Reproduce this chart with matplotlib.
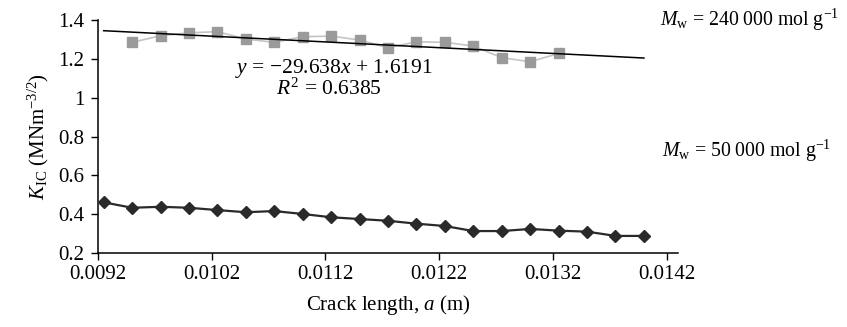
import matplotlib
matplotlib.use("Agg")
import matplotlib.pyplot as plt

plt.rcParams['font.family'] = ['Liberation Serif', 'DejaVu Serif']
plt.rcParams['mathtext.fontset'] = 'custom'
plt.rcParams['mathtext.rm'] = 'Liberation Serif'
plt.rcParams['mathtext.it'] = 'Liberation Serif:italic'

# crack length (m) and K_IC values for the two molecular weights
a_low = [0.00925, 0.0095, 0.00975, 0.0100, 0.01025, 0.0105, 0.01075, 0.0110,
         0.01125, 0.0115, 0.01175, 0.0120, 0.01225, 0.0125, 0.01275, 0.0130,
         0.01325, 0.0135, 0.01375, 0.0140]
k_low = [0.461, 0.433, 0.438, 0.433, 0.421, 0.410, 0.416, 0.401, 0.384, 0.375,
         0.366, 0.351, 0.339, 0.313, 0.313, 0.324, 0.315, 0.310, 0.288, 0.288]

a_high = [0.0095, 0.00975, 0.0100, 0.01025, 0.0105, 0.01075, 0.0110, 0.01125,
          0.0115, 0.01175, 0.0120, 0.01225, 0.0125, 0.01275, 0.0130, 0.01325]
k_high = [1.285, 1.319, 1.334, 1.340, 1.302, 1.285, 1.314, 1.317, 1.297, 1.257,
          1.288, 1.285, 1.266, 1.206, 1.185, 1.228]

# linear trendline of the high Mw series
slope = -29.638
intercept = 1.6191
r2 = 0.6385
trend_x = [0.00925, 0.0140]

xticks = [0.0092, 0.0102, 0.0112, 0.0122, 0.0132, 0.0142]
yticks = [0.2, 0.4, 0.6, 0.8, 1.0, 1.2, 1.4]
ytick_labels = ['0.2', '0.4', '0.6', '0.8', '1', '1.2', '1.4']

fs = 15

fig = plt.figure(figsize=(8.47, 3.27), dpi=100)
ax = fig.add_axes([0.1157, 0.2263, 0.6848, 0.7125])

ax.plot(a_high, k_high, color='#c4c4c4', lw=1.2, marker='s', ms=6.5,
        mfc='#9a9a9a', mec='#9a9a9a', zorder=2)
ax.plot(trend_x, [slope * x + intercept for x in trend_x], color='black', lw=1.1, zorder=3)
ax.plot(a_low, k_low, color='#2a2a2a', lw=1.6, marker='D', ms=6.5,
        mfc='#2a2a2a', mec='#2a2a2a', zorder=3)

ax.set_xlim(0.0092, 0.0143)
ax.set_ylim(0.2, 1.4)
ax.set_xticks(xticks)
ax.set_xticklabels([f'{t:.4f}' for t in xticks])
ax.set_yticks(yticks)
ax.set_yticklabels(ytick_labels)
ax.tick_params(labelsize=fs, direction='out', length=5, width=1)
ax.tick_params(axis='y', pad=5)
ax.tick_params(axis='x', pad=4)
for s in ['top', 'right']:
    ax.spines[s].set_visible(False)
for s in ['left', 'bottom']:
    ax.spines[s].set_linewidth(1.1)

ax.set_xlabel(r'Crack length, $a$ (m)', fontsize=fs, labelpad=6)
ax.set_ylabel(r'$K_\mathrm{IC}$ (MNm$^{-3/2}$)', fontsize=fs, labelpad=5)

fig.text(334 / 847, 1 - 69 / 327, r'$y$ = −29.638$x$ + 1.6191',
         ha='center', va='center', fontsize=15.5)
fig.text(329 / 847, 1 - 89 / 327, r'$R^2$ = ' + f'{r2}',
         ha='center', va='center', fontsize=15.5)

fig.text(660 / 847, 1 - 20 / 327, r'$M_\mathrm{w}$ = 240' + '\u2009' + r'000 mol g$^{-1}$',
         ha='left', va='center', fontsize=14.3)
fig.text(662 / 847, 1 - 151 / 327, r'$M_\mathrm{w}$ = 50' + '\u2009' + r'000 mol g$^{-1}$',
         ha='left', va='center', fontsize=14.3)

fig.savefig('out.png', dpi=100)
